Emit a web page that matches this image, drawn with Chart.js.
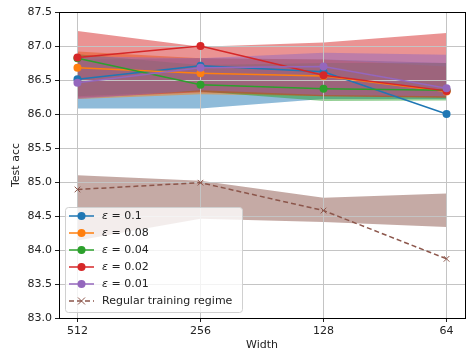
<!DOCTYPE html>
<html>
<head>
<meta charset="utf-8">
<script src="https://cdn.jsdelivr.net/npm/chart.js@4.4.1/dist/chart.umd.min.js"></script>
<style>
  html, body { margin: 0; padding: 0; background: #fff; overflow: hidden; }
  #wrap { width: 470px; height: 352px; }
</style>
</head>
<body>
<div id="wrap"><canvas id="myChart"></canvas></div>
<script>
// widths on the x axis (shown left to right)
let widths = ["512", "256", "128", "64"];
let yTicks = [83.0, 83.5, 84.0, 84.5, 85.0, 85.5, 86.0, 86.5, 87.0, 87.5];

let names = ["0.1", "0.08", "0.04", "0.02", "0.01"];
let colors = ["#1f77b4", "#ff7f0e", "#2ca02c", "#d62728", "#9467bd"];

// mean test acc per eps
let eps01  = [86.51, 86.71, 86.62, 86.00];
let eps008 = [86.68, 86.60, 86.56, 86.33];
let eps004 = [86.82, 86.43, 86.37, 86.35];
let eps002 = [86.83, 87.00, 86.57, 86.34];
let eps001 = [86.46, 86.68, 86.70, 86.38];

// shaded bands (low / high)
let eps01Lo  = [86.08, 86.08, 86.22, 86.22];
let eps01Hi  = [86.80, 86.82, 86.80, 86.75];
let eps008Lo = [86.22, 86.29, 86.26, 86.24];
let eps008Hi = [86.92, 86.82, 86.80, 86.70];
let eps004Lo = [86.26, 86.33, 86.19, 86.20];
let eps004Hi = [86.88, 86.72, 86.75, 86.75];
let eps002Lo = [86.24, 86.32, 86.26, 86.24];
let eps002Hi = [87.22, 86.99, 87.05, 87.19];
let eps001Lo = [86.22, 86.35, 86.28, 86.26];
let eps001Hi = [86.85, 86.82, 86.90, 86.87];

// regular training
let regular   = [84.89, 84.99, 84.58, 83.87];
let regularLo = [84.14, 84.46, 84.41, 84.34];
let regularHi = [85.10, 85.02, 84.77, 84.83];

let means = [eps01, eps008, eps004, eps002, eps001];
let lows  = [eps01Lo, eps008Lo, eps004Lo, eps002Lo, eps001Lo];
let highs = [eps01Hi, eps008Hi, eps004Hi, eps002Hi, eps001Hi];

function pts(arr){
    return arr.map((v, i) => ({x: i, y: v}));
}
function alpha(hex, a){
    let r = parseInt(hex.slice(1,3),16), g = parseInt(hex.slice(3,5),16), b = parseInt(hex.slice(5,7),16);
    return `rgba(${r},${g},${b},${a})`;
}

let datasets = [];
// bands first: upper fills down to the next one (lower)
// (upper goes first so the fill target index is never 0, chart.js skips fill 0)
for (let k = 0; k < 5; k++){
    datasets.push({label: "hi" + k, data: pts(highs[k]), borderWidth: 0, pointRadius: 0,
        fill: "+1", backgroundColor: alpha(colors[k], 0.5), order: 100 - k});
    datasets.push({label: "lo" + k, data: pts(lows[k]), borderWidth: 0, pointRadius: 0, fill: false, order: 100 - k});
}
datasets.push({label: "hiR", data: pts(regularHi), borderWidth: 0, pointRadius: 0,
    fill: "+1", backgroundColor: alpha("#8c564b", 0.5), order: 90});
datasets.push({label: "loR", data: pts(regularLo), borderWidth: 0, pointRadius: 0, fill: false, order: 90});

for (let k = 0; k < 5; k++){
    datasets.push({label: "eps" + names[k], data: pts(means[k]), borderColor: colors[k], backgroundColor: colors[k],
        borderWidth: 1.5, pointRadius: 4, pointBorderWidth: 0, fill: false, order: 50 - k});
}
datasets.push({label: "Regular training regime", data: pts(regular), borderColor: "#8c564b", backgroundColor: "#8c564b",
    borderWidth: 1.5, borderDash: [5, 3], pointStyle: "crossRot", pointRadius: 4, pointBorderWidth: 1,
    fill: false, order: 40});

// legend box + frame drawn on top, like matplotlib
const frameAndLegend = {
    id: "frameAndLegend",
    afterDraw(chart){
        let ctx = chart.ctx;
        let a = chart.chartArea;
        ctx.save();
        ctx.strokeStyle = "#000";
        ctx.lineWidth = 1;
        ctx.strokeRect(a.left + 0.5, a.top + 0.5, a.right - a.left, a.bottom - a.top);

        // legend
        let x0 = 65, y0 = 207, w = 177, h = 105;
        ctx.beginPath();
        ctx.roundRect(x0 + 0.5, y0 + 0.5, w, h, 3);
        ctx.fillStyle = "rgba(255,255,255,0.8)";
        ctx.fill();
        ctx.strokeStyle = "#d0d0d0";
        ctx.stroke();

        ctx.textBaseline = "middle";
        let rowY = 216;
        for (let k = 0; k < 6; k++){
            let y = rowY + k * 17;
            let col = k < 5 ? colors[k] : "#8c564b";
            ctx.strokeStyle = col;
            ctx.lineWidth = 1.5;
            ctx.beginPath();
            if (k == 5) ctx.setLineDash([5, 3]);
            ctx.moveTo(69, y);
            ctx.lineTo(94, y);
            ctx.stroke();
            ctx.setLineDash([]);
            if (k < 5){
                ctx.fillStyle = col;
                ctx.beginPath();
                ctx.arc(81.5, y, 4, 0, Math.PI * 2);
                ctx.fill();
            } else {
                ctx.lineWidth = 1;
                ctx.beginPath();
                ctx.moveTo(78, y - 3.5); ctx.lineTo(85, y + 3.5);
                ctx.moveTo(85, y - 3.5); ctx.lineTo(78, y + 3.5);
                ctx.stroke();
            }
            ctx.fillStyle = "#222";
            if (k < 5){
                ctx.font = "italic 11px 'DejaVu Sans'";
                ctx.fillText("ε", 102, y);
                let ew = ctx.measureText("ε").width;
                ctx.font = "11px 'DejaVu Sans'";
                ctx.fillText(" = " + names[k], 102 + ew, y);
            } else {
                ctx.font = "11px 'DejaVu Sans'";
                ctx.fillText("Regular training regime", 102, y);
            }
        }
        ctx.restore();
    }
};

new Chart("myChart", {
    type: "line",
    data: {datasets: datasets},
    options: {
        responsive: true,
        maintainAspectRatio: false,
        animation: false,
        layout: {padding: {top: 12, right: 1, left: 0, bottom: 0}},
        plugins: {
            legend: {display: false},
            tooltip: {enabled: false},
            filler: {drawTime: "beforeDraw"}
        },
        scales: {
            x: {
                type: "linear",
                min: -0.15,
                max: 3.15,
                afterBuildTicks: (axis) => { axis.ticks = [0, 1, 2, 3].map(v => ({value: v})); },
                afterFit: (s) => { s.height = 34; },
                ticks: {
                    callback: (v) => widths[v],
                    color: "#222",
                    font: {family: "DejaVu Sans", size: 11},
                    padding: 3,
                    maxRotation: 0
                },
                grid: {color: "#c4c4c4", tickLength: 4, tickColor: "#222"},
                border: {color: "#000"},
                title: {display: true, text: "Width", color: "#222", font: {family: "DejaVu Sans", size: 11}, padding: {top: 0, bottom: 0}}
            },
            y: {
                min: 83.0,
                max: 87.5,
                afterBuildTicks: (axis) => { axis.ticks = yTicks.map(v => ({value: v})); },
                afterFit: (s) => { s.width = 59; },
                ticks: {
                    callback: (v) => v.toFixed(1),
                    color: "#222",
                    font: {family: "DejaVu Sans", size: 11},
                    padding: 3
                },
                grid: {color: "#c4c4c4", tickLength: 4, tickColor: "#222"},
                border: {color: "#000"},
                title: {display: true, text: "Test acc", color: "#222", font: {family: "DejaVu Sans", size: 11}, padding: {top: 10, bottom: 0}}
            }
        }
    },
    plugins: [frameAndLegend]
});
</script>
</body>
</html>
